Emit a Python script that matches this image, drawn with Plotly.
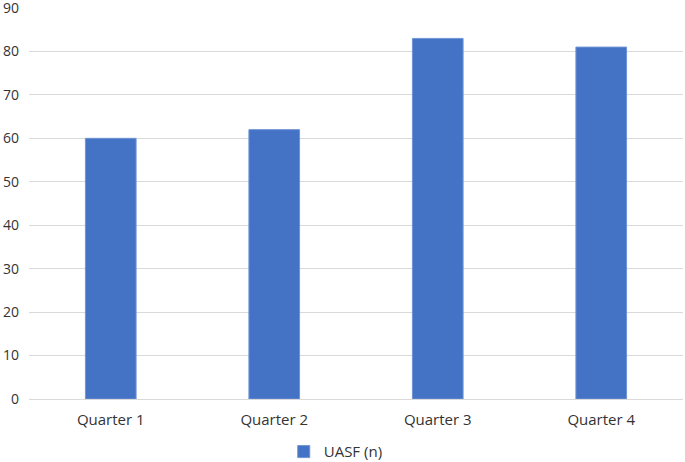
import plotly.graph_objects as go

quarters = ["Quarter 1", "Quarter 2", "Quarter 3", "Quarter 4"]
uasf_counts = [60, 62, 83, 81]

fig = go.Figure()
fig.add_trace(go.Bar(x=quarters, y=uasf_counts, name="UASF (n)",
                     marker=dict(color="#4472C4", line=dict(color="#6f94d6", width=1))))

fig.update_layout(
    width=685, height=462,
    margin=dict(l=29, r=2, t=8, b=63),
    plot_bgcolor="white", paper_bgcolor="white",
    font=dict(family="Open Sans, Liberation Sans, sans-serif", size=14, color="#333333"),
    bargap=0.69,
    showlegend=True,
    legend=dict(orientation="h", x=0.469, xanchor="center", y=0.022, yanchor="middle",
                yref="container", font=dict(size=15), itemwidth=30),
    xaxis=dict(showgrid=False, showline=False, ticks="", tickfont=dict(size=15),
               automargin=False, ticklabelstandoff=10),
    yaxis=dict(range=[0, 90], dtick=10, showgrid=True, gridcolor="#d9d9d9", gridwidth=1,
               zeroline=True, zerolinecolor="#d9d9d9", zerolinewidth=1, automargin=False,
               ticks="", ticklabelstandoff=9, ticklabeloverflow="allow", tickfont=dict(size=14)),
)

# page body has a default 8px margin; drop it so the figure sits at the window corner
fig.write_html("out.html", config={"displayModeBar": False},
               post_script="document.body.style.margin='0';")
